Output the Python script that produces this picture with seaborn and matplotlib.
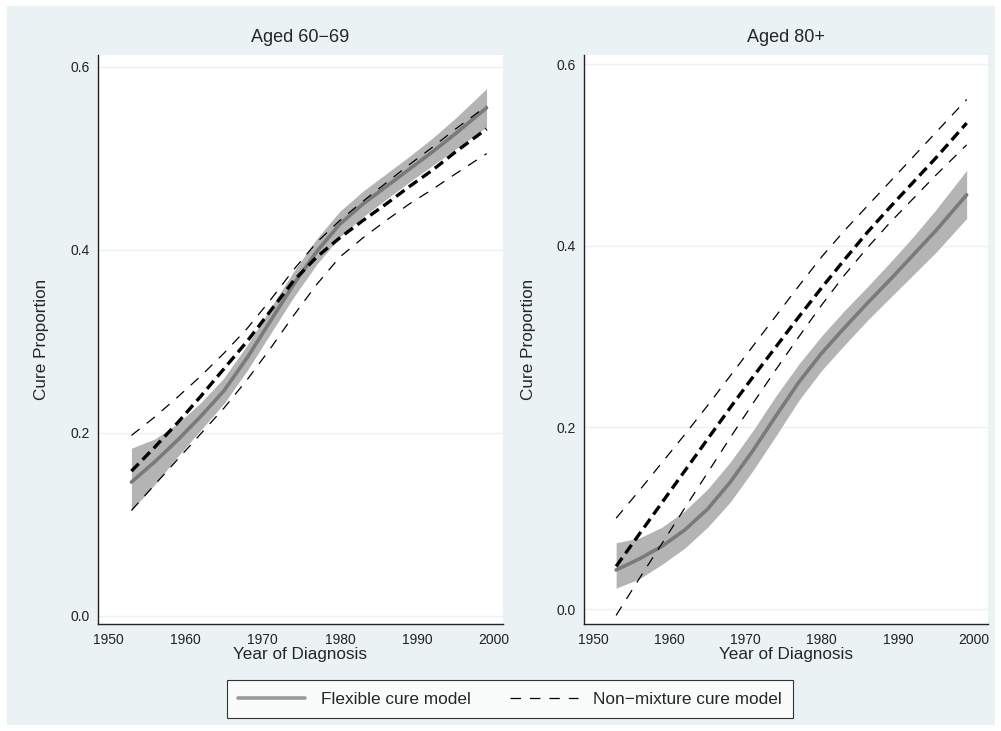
import pandas as pd
import numpy as np
import matplotlib
matplotlib.use('Agg')
import matplotlib.pyplot as plt
import seaborn as sns
from matplotlib.lines import Line2D
from matplotlib.patches import Rectangle

# values
years = [1953, 1956, 1959, 1962, 1965, 1968, 1971, 1974, 1977, 1980, 1983, 1986, 1989, 1992, 1995, 1999]

# Aged 60-69
flex_60 = [0.146, 0.168, 0.192, 0.218, 0.246, 0.282, 0.322, 0.362, 0.398, 0.428, 0.450, 0.469, 0.488, 0.507, 0.527, 0.555]
flex_60_lo = [0.115, 0.143, 0.174, 0.203, 0.232, 0.268, 0.308, 0.348, 0.384, 0.414, 0.436, 0.455, 0.474, 0.492, 0.510, 0.534]
flex_60_hi = [0.183, 0.193, 0.210, 0.233, 0.260, 0.296, 0.336, 0.376, 0.412, 0.442, 0.464, 0.483, 0.502, 0.522, 0.544, 0.576]
nm_60 = [0.158, 0.184, 0.211, 0.240, 0.270, 0.300, 0.333, 0.366, 0.392, 0.413, 0.432, 0.450, 0.469, 0.487, 0.507, 0.532]
nm_60_lo = [0.115, 0.143, 0.171, 0.199, 0.227, 0.258, 0.292, 0.328, 0.362, 0.392, 0.413, 0.432, 0.450, 0.466, 0.483, 0.505]
nm_60_hi = [0.197, 0.217, 0.239, 0.262, 0.287, 0.314, 0.345, 0.378, 0.408, 0.432, 0.453, 0.473, 0.493, 0.512, 0.532, 0.557]

# Aged 80+
flex_80 = [0.043, 0.055, 0.069, 0.087, 0.110, 0.140, 0.175, 0.213, 0.250, 0.282, 0.310, 0.337, 0.363, 0.390, 0.417, 0.456]
flex_80_lo = [0.023, 0.033, 0.049, 0.067, 0.090, 0.118, 0.153, 0.191, 0.230, 0.263, 0.291, 0.318, 0.343, 0.368, 0.393, 0.430]
flex_80_hi = [0.073, 0.078, 0.090, 0.108, 0.132, 0.162, 0.197, 0.235, 0.270, 0.301, 0.329, 0.355, 0.382, 0.410, 0.440, 0.483]
nm_80 = [0.047, 0.082, 0.117, 0.152, 0.187, 0.222, 0.256, 0.289, 0.322, 0.354, 0.385, 0.415, 0.443, 0.470, 0.497, 0.535]
nm_80_lo = [-0.007, 0.033, 0.072, 0.111, 0.150, 0.189, 0.227, 0.264, 0.300, 0.335, 0.368, 0.398, 0.426, 0.452, 0.478, 0.511]
nm_80_hi = [0.100, 0.130, 0.161, 0.192, 0.224, 0.257, 0.290, 0.323, 0.356, 0.388, 0.417, 0.444, 0.471, 0.498, 0.525, 0.561]

titles = ['Aged 60\u221269', 'Aged 80+']
yticks = [0.0, 0.2, 0.4, 0.6]
xticks = [1950, 1960, 1970, 1980, 1990, 2000]

sns.set_style('white')
plt.rcParams['font.family'] = ['Liberation Sans', 'DejaVu Sans']
plt.rcParams['lines.scale_dashes'] = False

bg = '#EAF2F3'
gray_band = '#B4B4B4'
gray_line = '#7A7A7A'
thin_dash = (0, (7.5, 6.5))
thick_dash = (0, (7.5, 4))

fig = plt.figure(figsize=(10.01, 7.31), dpi=100)
fig.patch.set_facecolor('white')
fig.patches.append(Rectangle((7 / 1001, 6 / 731), 988 / 1001, 719 / 731,
                             transform=fig.transFigure, facecolor=bg,
                             edgecolor='none', zorder=-10))

ax1 = fig.add_axes([0.0979, 0.1460, 0.4043, 0.7788])
ax2 = fig.add_axes([0.5837, 0.1460, 0.4036, 0.7788])

panels = [
    (ax1, flex_60, flex_60_lo, flex_60_hi, nm_60, nm_60_lo, nm_60_hi,
     (1948.67, 2001.09), (-0.0094, 0.6128)),
    (ax2, flex_80, flex_80_lo, flex_80_hi, nm_80, nm_80_lo, nm_80_hi,
     (1948.82, 2001.84), (-0.0168, 0.6100)),
]

for i, (ax, fl, flo, fhi, nm, nlo, nhi, xl, yl) in enumerate(panels):
    df = pd.DataFrame({'year': years, 'flex': fl, 'flo': flo, 'fhi': fhi,
                       'nm': nm, 'nlo': nlo, 'nhi': nhi})
    ax.set_facecolor('white')
    for y in yticks:
        ax.axhline(y, color=bg, lw=1.0, zorder=0)
    ax.fill_between(df.year, df.flo, df.fhi, color=gray_band, lw=0, zorder=1)
    sns.lineplot(data=df, x='year', y='flex', ax=ax, color=gray_line,
                 lw=2.6, errorbar=None, zorder=2)
    for col in ['nlo', 'nhi']:
        sns.lineplot(data=df, x='year', y=col, ax=ax, color='black', lw=0.9,
                     linestyle=thin_dash, errorbar=None, zorder=3)
    sns.lineplot(data=df, x='year', y='nm', ax=ax, color='black', lw=2.4,
                 linestyle=thick_dash, errorbar=None, zorder=4)

    ax.set_xlim(*xl)
    ax.set_ylim(*yl)
    ax.set_xticks(xticks)
    ax.set_yticks(yticks)
    ax.set_yticklabels(['%.1f' % t for t in yticks])
    ax.tick_params(axis='both', direction='out', length=4, width=0.8,
                   colors='#222222', labelsize=10, pad=2)
    for s in ['top', 'right']:
        ax.spines[s].set_visible(False)
    for s in ['left', 'bottom']:
        ax.spines[s].set_color('#222222')
        ax.spines[s].set_linewidth(1.0)
    ax.set_xlabel('Year of Diagnosis', fontsize=12.3, labelpad=0)
    ax.set_ylabel('Cure Proportion', fontsize=12.3, labelpad=15)
    ax.set_title(titles[i], fontsize=13, pad=9)

handles = [Line2D([], [], color='#999999', lw=2.6),
           Line2D([], [], color='black', lw=0.9, linestyle=thin_dash)]
leg = fig.legend(handles, ['Flexible cure model', 'Non\u2212mixture cure model'],
                 loc='center', bbox_to_anchor=(510 / 1001, 1 - 699 / 731),
                 ncol=2, frameon=True, fancybox=False, fontsize=12.4,
                 handlelength=3.9, columnspacing=2.3, borderpad=0.65,
                 handletextpad=0.9)
leg.get_frame().set_edgecolor('black')
leg.get_frame().set_linewidth(0.8)

fig.savefig('out.png', dpi=100)
